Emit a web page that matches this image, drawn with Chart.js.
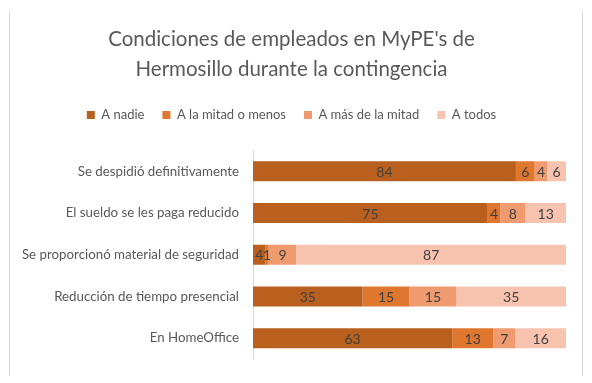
<!DOCTYPE html>
<html>
<head>
<meta charset="utf-8">
<script src="https://cdn.jsdelivr.net/npm/chart.js@4.4.1/dist/chart.umd.min.js"></script>
<style>
  body { margin: 0; background: #fff; }
  #wrap { width: 592px; height: 383px; }
</style>
</head>
<body>
<div id="wrap"><canvas id="myChart" width="592" height="383"></canvas></div>
<script>
const categories = [
    'Se despidió definitivamente',
    'El sueldo se les paga reducido',
    'Se proporcionó material de seguridad',
    'Reducción de tiempo presencial',
    'En HomeOffice'
];
const seriesNames = ['A nadie', 'A la mitad o menos', 'A más de la mitad', 'A todos'];
const aNadie = [84, 75, 4, 35, 63];
const mitadOMenos = [6, 4, 1, 15, 13];
const masDeMitad = [4, 8, 9, 15, 7];
const aTodos = [6, 13, 87, 35, 16];
const colors = ['#B9601F', '#E0772F', '#F09A70', '#F7C3AF'];

const raw = [aNadie, mitadOMenos, masDeMitad, aTodos];
// 100% stacked: each row scaled to its own total
const totals = categories.map((c, i) => raw.reduce((s, arr) => s + arr[i], 0));

const fontFamily = 'Lato, "Open Sans", sans-serif';
const ctx = document.getElementById('myChart');

// draws the value in the middle of each bar piece
const valueLabels = {
    id: 'valueLabels',
    afterDatasetsDraw(chart) {
        const c = chart.ctx;
        c.save();
        c.font = '14px ' + fontFamily;
        c.fillStyle = '#404040';
        c.textAlign = 'center';
        c.textBaseline = 'middle';
        chart.data.datasets.forEach((ds, di) => {
            chart.getDatasetMeta(di).data.forEach((bar, i) => {
                const p = bar.getProps(['x', 'y', 'base']);
                c.fillText(String(ds.rawValues[i]), (p.x + p.base) / 2, p.y + 1);
            });
        });
        c.restore();
    }
};

const frame = {
    id: 'frame',
    beforeDraw(chart) {
        const c = chart.ctx;
        c.save();
        c.strokeStyle = '#d9d9d9';
        c.lineWidth = 1;
        c.beginPath();
        c.moveTo(9.5, 10); c.lineTo(9.5, 376);
        c.moveTo(582.5, 10); c.lineTo(582.5, 376);
        c.stroke();
        c.restore();
    }
};

// extra room under the legend
const legendGap = {
    id: 'legendGap',
    beforeInit(chart) {
        const fit = chart.legend.fit;
        chart.legend.fit = function () {
            fit.bind(chart.legend)();
            this.height += 19;
        };
    }
};

new Chart(ctx, {
    type: 'bar',
    data: {
        labels: categories,
        datasets: raw.map((arr, k) => ({
            label: seriesNames[k],
            data: arr.map((v, i) => v / totals[i] * 100),
            rawValues: arr,
            backgroundColor: colors[k],
            borderWidth: 0,
            categoryPercentage: 1,
            barPercentage: 0.48
        }))
    },
    options: {
        indexAxis: 'y',
        responsive: false,
        animation: false,
        layout: { padding: { top: 18, right: 26, bottom: 24, left: 17 } },
        scales: {
            x: { stacked: true, min: 0, max: 100, display: false },
            y: {
                stacked: true,
                afterFit(scale) { scale.width = 236; },
                grid: { display: false, drawTicks: false },
                border: { display: true, color: '#d9d9d9' },
                ticks: { padding: 14, color: '#595959', font: { family: fontFamily, size: 13.3 } }
            }
        },
        plugins: {
            title: {
                display: true,
                text: ["Condiciones de empleados en MyPE's de", 'Hermosillo durante la contingencia'],
                color: '#595959',
                font: { family: fontFamily, size: 20.5, weight: 'normal', lineHeight: 1.45 },
                padding: { top: 7, bottom: 6 }
            },
            legend: {
                position: 'top',
                labels: {
                    boxWidth: 8,
                    boxHeight: 8,
                    color: '#595959',
                    padding: 18,
                    font: { family: fontFamily, size: 13 }
                }
            },
            tooltip: { enabled: false }
        }
    },
    plugins: [valueLabels, frame, legendGap]
});
</script>
</body>
</html>
